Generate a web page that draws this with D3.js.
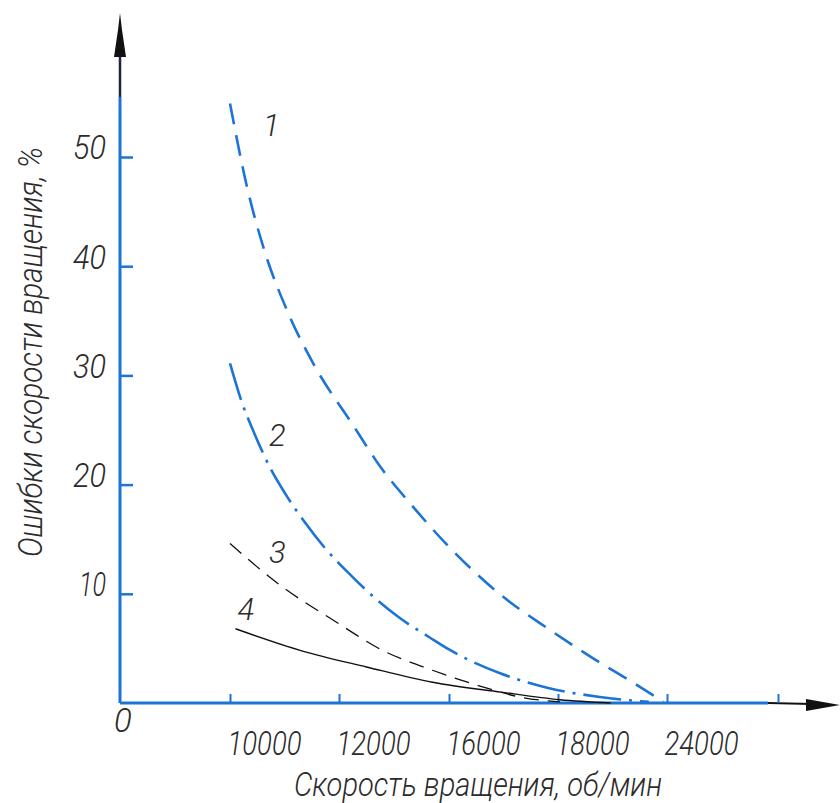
<!DOCTYPE html>
<html>
<head>
<meta charset="utf-8">
<script src="https://cdn.jsdelivr.net/npm/d3@7"></script>
<style>
  body { margin: 0; background: #fff; }
  text { font-family: Roboto, "DejaVu Sans Condensed", sans-serif; font-weight: 300; font-style: italic; fill: #2b2b2b; }
</style>
</head>
<body>
<div id="chart"></div>
<script>
// tick values and labels (x axis is not uniform in rpm)
var xTicks = [10000, 12000, 16000, 18000, 24000, 30000]
var xTickLabels = ["10000", "12000", "16000", "18000", "24000", ""]
var yTicks = [10, 20, 30, 40, 50]

// curve 1
var rpm1 = [10000, 10310, 10640, 11060, 11560, 12470, 13570, 14580, 16000, 16950, 17850, 20300, 22100, 23800]
var err1 = [54.9, 47.3, 41.3, 35.8, 30.8, 25.6, 21.4, 18.3, 14.3, 9.9, 6.7, 3.7, 1.9, 0.1]
// curve 2
var rpm2 = [10000, 10220, 10420, 10730, 11010, 11380, 11740, 12470, 13310, 14200, 15300, 16000, 16950, 17800, 20300, 23000]
var err2 = [31.1, 27.5, 25.0, 21.6, 19.2, 16.5, 14.2, 11.6, 9.6, 7.8, 6.0, 4.9, 2.7, 1.4, 0.55, 0.1]
// curve 3
var rpm3 = [10000, 10970, 11890, 13600, 15400, 16600, 17300, 18100]
var err3 = [14.6, 10.6, 7.6, 4.8, 3.0, 1.5, 0.55, 0.1]
// curve 4
var rpm4 = [10100, 11300, 13000, 15400, 16950, 18100, 20900]
var err4 = [6.8, 4.8, 3.3, 1.9, 1.0, 0.3, 0]

var curveNames = ["1", "2", "3", "4"]

var width = 840, height = 803
var blue = "#1c74d4"

var svg = d3.select("#chart")
  .append("svg")
  .attr("width", width)
  .attr("height", height)

// piecewise scale, the ticks are evenly spaced on the sheet
var x = d3.scaleLinear()
  .domain([0].concat(xTicks))
  .range([120, 230, 339, 449, 558, 667, 778])

var y = d3.scaleLinear()
  .domain([0, 50])
  .range([703, 157])

// axis lines
svg.append("line")
  .attr("x1", x(0)).attr("x2", 768)
  .attr("y1", y(0)).attr("y2", y(0))
  .style("stroke", blue).style("stroke-width", 3)
svg.append("line")
  .attr("x1", 768).attr("x2", 812)
  .attr("y1", y(0)).attr("y2", y(0) + 1)
  .style("stroke", "#111").style("stroke-width", 2)
svg.append("path")
  .attr("d", "M806,699 L840,705 L806,711 Z")
  .style("fill", "#111")

svg.append("line")
  .attr("x1", x(0)).attr("x2", x(0))
  .attr("y1", y(0)).attr("y2", 97)
  .style("stroke", blue).style("stroke-width", 3)
svg.append("line")
  .attr("x1", x(0)).attr("x2", x(0))
  .attr("y1", 97).attr("y2", 50)
  .style("stroke", "#1a2540").style("stroke-width", 2.5)
svg.append("path")
  .attr("d", "M120,13 L122,30 L126,57 L114,57 L118,30 Z")
  .style("fill", "#111")

// y axis ticks
var yAxis = svg.append("g")
  .attr("transform", "translate(" + x(0) + ",0)")
  .call(d3.axisLeft(y).tickValues(yTicks).tickSize(-13).tickPadding(14))
yAxis.select(".domain").remove()
yAxis.selectAll("line").style("stroke", blue).style("stroke-width", 2.5)
yAxis.selectAll("text")
  .attr("dy", "0.06em")
  .attr("textLength", function(d){ return d == 10 ? 27 : 33 })
  .attr("lengthAdjust", "spacingAndGlyphs")
  .style("font-size", "33px")
  .style("font-family", null)

// x axis ticks
var xAxis = svg.append("g")
  .attr("transform", "translate(0," + y(0) + ")")
  .call(d3.axisBottom(x).tickValues(xTicks).tickSize(-9)
    .tickFormat(function(d, i){ return xTickLabels[i] }))
xAxis.select(".domain").remove()
xAxis.selectAll("line").style("stroke", blue).style("stroke-width", 2)
xAxis.selectAll("text")
  .attr("y", 52)
  .attr("dy", 0)
  .attr("x", -3)
  .attr("text-anchor", "start")
  .attr("textLength", function(d, i){ return xTickLabels[i] ? 74 : null })
  .attr("lengthAdjust", "spacingAndGlyphs")
  .style("font-size", "33px")
  .style("font-family", null)

// origin
svg.append("text")
  .attr("x", 114).attr("y", 732)
  .style("font-size", "33px")
  .text("0")

// axis titles
svg.append("text")
  .attr("x", 294).attr("y", 796)
  .attr("textLength", 368)
  .attr("lengthAdjust", "spacingAndGlyphs")
  .style("font-size", "33px")
  .text("Скорость вращения, об/мин")

svg.append("text")
  .attr("transform", "translate(42,557) rotate(-90)")
  .attr("textLength", 410)
  .attr("lengthAdjust", "spacingAndGlyphs")
  .style("font-size", "33px")
  .text("Ошибки скорости вращения, %")

// the four curves
var series = [
  {rpm: rpm1, err: err1, color: blue, width: 2.6, dash: "21,11"},
  {rpm: rpm2, err: err2, color: blue, width: 2.6, dash: "38,8,3,8"},
  {rpm: rpm3, err: err3, color: "#111", width: 1.3, dash: "15,9"},
  {rpm: rpm4, err: err4, color: "#111", width: 1.4, dash: null}
]

var line = d3.line()
  .x(function(d){ return x(d[0]) })
  .y(function(d){ return y(d[1]) })
  .curve(d3.curveMonotoneX)

svg.append("g")
  .selectAll("path")
  .data(series)
  .enter()
  .append("path")
  .attr("d", function(s){ return line(d3.zip(s.rpm, s.err)) })
  .style("fill", "none")
  .style("stroke", function(s){ return s.color })
  .style("stroke-width", function(s){ return s.width })
  .style("stroke-dasharray", function(s){ return s.dash })

// curve numbers, placed from the start of each curve
var labelOffsets = [[33, 33], [39, 83], [39, 19], [2, -9]]
svg.append("g")
  .selectAll("text")
  .data(series)
  .enter()
  .append("text")
  .attr("x", function(s, i){ return x(s.rpm[0]) + labelOffsets[i][0] })
  .attr("y", function(s, i){ return y(s.err[0]) + labelOffsets[i][1] })
  .style("font-size", "31px")
  .text(function(s, i){ return curveNames[i] })
</script>
</body>
</html>
